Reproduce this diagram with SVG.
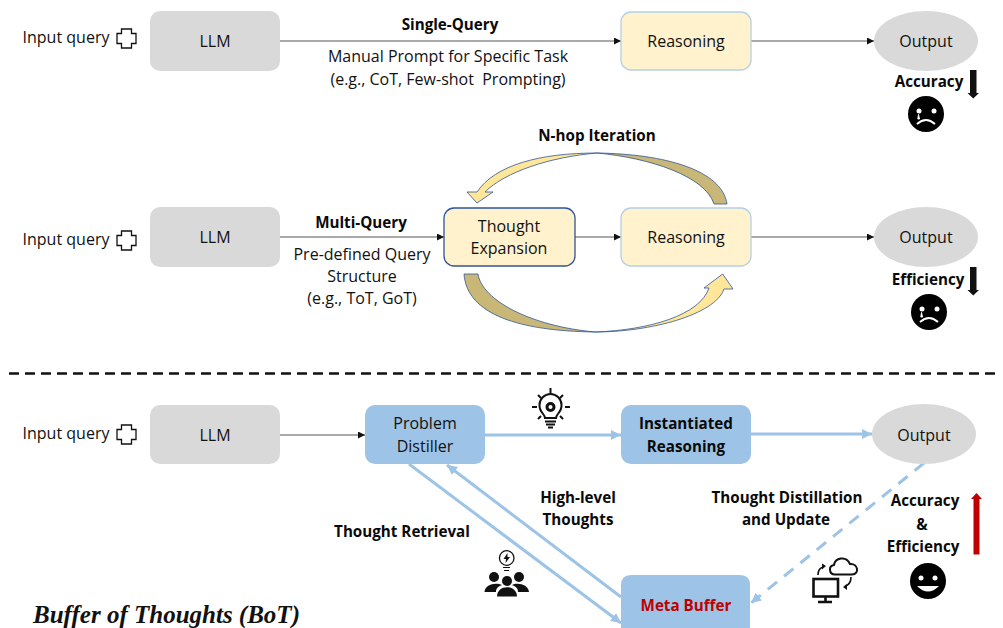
<svg xmlns="http://www.w3.org/2000/svg" width="1003" height="628" viewBox="0 0 1003 628">
<defs>
<style>
text{font-family:"Open Sans","Noto Sans","Liberation Sans",sans-serif;font-size:16px;fill:#111;text-anchor:middle}
.b{font-weight:700;font-size:15.2px;fill:#0a0a0a}
.gr{fill:#d9d9d9}
.yl{fill:#fff2cc;stroke:#b4cfe8;stroke-width:1.3}
.bl{fill:#9dc3e6}
.ln{fill:none;stroke:#555;stroke-width:1}
.bu{fill:none;stroke:#9dc3e6;stroke-width:3}
.plus{fill:#fff;stroke:#111;stroke-width:1.3}
.shade{fill:#c9b777;stroke:#2f5597;stroke-width:.8}
.light{fill:#ffe699;stroke:#2f5597;stroke-width:.8}
</style>
<marker id="k" markerWidth="9" markerHeight="8" refX="7" refY="3.500" orient="auto" markerUnits="userSpaceOnUse"><path d="M0 0L7 3.500L0 7z" fill="#111"/></marker>
<marker id="bh" markerWidth="12" markerHeight="11" refX="10" refY="5" orient="auto" markerUnits="userSpaceOnUse"><path d="M0 0L10 5L0 10z" fill="#9dc3e6"/></marker>
<path id="cross" d="M-5-9.500H5V-5H9.500V5H5V9.500H-5V5H-9.500V-5H-5z"/>
</defs>

<g id="connectors">
<path class="ln" marker-end="url(#k)" d="M279 41H621"/>
<path class="ln" marker-end="url(#k)" d="M751 41H874"/>
<path class="ln" marker-end="url(#k)" d="M280 237H444"/>
<path class="ln" marker-end="url(#k)" d="M575 237H621"/>
<path class="ln" marker-end="url(#k)" d="M751 237H874"/>
<path class="ln" marker-end="url(#k)" d="M280 435H365"/>
<path class="bu" marker-end="url(#bh)" d="M485 435H621"/>
<path class="bu" marker-end="url(#bh)" d="M751 434H872"/>
<path class="bu" marker-end="url(#bh)" d="M621 597L447 465"/>
<path class="bu" marker-end="url(#bh)" d="M409 464L621 623"/>
<path class="bu" stroke-dasharray="12 9" marker-end="url(#bh)" d="M924 463L751 603"/>
</g>

<g id="n-hop-arrow">
<path class="shade" d="M597 153C665 154 722 170 727 204H714C705 176 650 158 597 153z"/>
<path class="light" d="M597 153C540 153 495 165 477 192H467L477 203L493 192H485C505 172 550 157 597 153z"/>
</g>
<g id="forward-arrow">
<path class="shade" d="M464 274H478C482 300 530 326 595 332C520 331 467 315 464 274z"/>
<path class="light" d="M595 332C650 330 700 315 709 288H704L722.700 274L733 289H724C715 315 650 332 595 332z"/>
</g>

<g id="row1-input"><text x="66" y="43">Input query</text><use class="plus" href="#cross" x="126.500" y="38.500"/></g>
<g id="row1-llm"><rect class="gr" x="150" y="11" width="130" height="60" rx="10"/><text x="215" y="47">LLM</text></g>
<g id="row1-reasoning"><rect class="yl" x="621" y="12" width="130" height="58" rx="10"/><text x="686" y="47">Reasoning</text></g>
<g id="row1-output"><ellipse class="gr" cx="926" cy="41" rx="52" ry="30"/><text x="926" y="47">Output</text></g>
<g id="row1-labels">
<text class="b" x="450" y="30">Single-Query</text>
<text x="448" y="62">Manual Prompt for Specific Task</text>
<text x="448" y="85" xml:space="preserve">(e.g., CoT, Few-shot  Prompting)</text>
<text class="b" x="929" y="87">Accuracy</text>
<path d="M970 70H976.500V93H979L973.250 98.500L967.500 93H970z" fill="#111"/>
</g>
<g id="sad-1"><circle cx="926" cy="114" r="18" fill="#000"/><circle cx="919" cy="111" r="2.500" fill="#fff"/><circle cx="934" cy="111" r="2.500" fill="#fff"/><path d="M918.500 114.500L917.800 119H919.500z" fill="#fff" stroke="#fff"/><path d="M917 124Q926 116 935 124" fill="none" stroke="#fff" stroke-width="2"/></g>

<g id="row2-input"><text x="66" y="245">Input query</text><use class="plus" href="#cross" x="126.500" y="240.500"/></g>
<g id="row2-llm"><rect class="gr" x="150" y="207" width="130" height="60" rx="10"/><text x="215" y="243">LLM</text></g>
<g id="thought-expansion"><rect x="444" y="208" width="131" height="58" rx="10" fill="#fff2cc" stroke="#2f5597" stroke-width="1.300"/><text x="509" y="232">Thought</text><text x="509" y="254">Expansion</text></g>
<g id="row2-reasoning"><rect class="yl" x="621" y="208" width="130" height="58" rx="10"/><text x="686" y="243">Reasoning</text></g>
<g id="row2-output"><ellipse class="gr" cx="926" cy="237" rx="52" ry="30"/><text x="926" y="243">Output</text></g>
<g id="row2-labels">
<text class="b" x="597" y="141">N-hop Iteration</text>
<text class="b" x="361" y="228">Multi-Query</text>
<text x="362" y="260">Pre-defined Query</text>
<text x="362" y="282">Structure</text>
<text x="362" y="304">(e.g., ToT, GoT)</text>
<text class="b" x="928" y="285">Efficiency</text>
<path d="M970 267H976.500V290H979L973.250 295.500L967.500 290H970z" fill="#111"/>
</g>
<g id="sad-2"><circle cx="929" cy="312" r="18" fill="#000"/><circle cx="922" cy="309" r="2.500" fill="#fff"/><circle cx="937" cy="309" r="2.500" fill="#fff"/><path d="M921.500 312.500L920.800 317H922.500z" fill="#fff" stroke="#fff"/><path d="M920 322Q929 314 938 322" fill="none" stroke="#fff" stroke-width="2"/></g>

<path id="divider" d="M9 373.500H1000" stroke="#111" stroke-width="2.500" stroke-dasharray="10 6" fill="none"/>

<g id="row3-input"><text x="66" y="439">Input query</text><use class="plus" href="#cross" x="126.500" y="434.500"/></g>
<g id="row3-llm"><rect class="gr" x="150" y="405" width="130" height="59" rx="10"/><text x="215" y="441">LLM</text></g>
<g id="problem-distiller"><rect class="bl" x="365" y="405" width="120" height="59" rx="10"/><text x="425" y="429">Problem</text><text x="425" y="452">Distiller</text></g>
<g id="instantiated-reasoning"><rect class="bl" x="621" y="405" width="130" height="59" rx="10"/><text class="b" x="686" y="429">Instantiated</text><text class="b" x="686" y="452">Reasoning</text></g>
<g id="row3-output"><ellipse class="gr" cx="924" cy="434" rx="52" ry="30"/><text x="924" y="441">Output</text></g>
<g id="meta-buffer"><path class="bl" d="M631 575H740Q750 575 750 585V628H621V585Q621 575 631 575z"/><text class="b" x="686" y="611" style="fill:#c00000">Meta Buffer</text></g>
<g id="row3-labels">
<text class="b" x="402" y="537">Thought Retrieval</text>
<text class="b" x="578" y="503">High-level</text>
<text class="b" x="578" y="525">Thoughts</text>
<text class="b" x="787" y="503">Thought Distillation</text>
<text class="b" x="786" y="525">and Update</text>
<text class="b" x="925" y="506">Accuracy</text>
<text class="b" x="922" y="530">&amp;</text>
<text class="b" x="923" y="552">Efficiency</text>
<path d="M973.500 554.500V499H971L976.500 493L982 499H979.500V554.500z" fill="#c00000"/>
<text x="166.500" y="623" style="font-family:'Liberation Serif',serif;font-style:italic;font-weight:700;font-size:25px;fill:#111">Buffer of Thoughts (BoT)</text>
</g>
<g id="happy"><circle cx="928" cy="581" r="18" fill="#000"/><circle cx="921" cy="578" r="2.500" fill="#fff"/><circle cx="935" cy="578" r="2.500" fill="#fff"/><path d="M917 586Q928 597 939 586z" fill="#fff"/></g>

<g id="icon-bulb" fill="none" stroke="#111" stroke-width="2">
<path d="M545 418C545 414 539 412 539.500 405A11 11 0 0 1 561.500 405C562 412 556 414 556 418z" stroke-width="2"/>
<circle cx="550.500" cy="407" r="3.500" stroke-width="3"/>
<path d="M545 421.500H556M546 424.500H555M548 427.500H553" stroke-width="2"/>
<path d="M550.500 388V393M532 407H537M565 407H570M538 395L541 398M563 395L560 398M538 419L541 416M563 419L560 416"/>
</g>
<g id="icon-team" fill="#111">
<circle cx="506.700" cy="558" r="7.300" fill="none" stroke="#111" stroke-width="1.300"/>
<path d="M507.500 553L503.500 559H506L505.500 563L510 557H507.500z"/>
<path d="M503 567.500H510M504 570.500H509" stroke="#111" stroke-width="1.200"/>
<circle cx="494" cy="577" r="5"/><circle cx="519" cy="577" r="5"/><circle cx="507" cy="581" r="5"/>
<path d="M484.500 592C485 584 496 582 502 585C497 587 496 589 496 592z"/><path d="M529 592C528.500 584 517 582 512 585C517 587 518 589 518 592z"/>
<path d="M497 596.500C497 584 517 584 517 596.500z"/>
</g>
<g id="icon-cloud" fill="none" stroke="#111" stroke-width="2">
<path d="M835 574.500C829 574.500 828 566 834 565C835 558 846 555 850 564C858 563 860 574.500 852 574.500z"/>
<rect x="813.500" y="579" width="24.500" height="17.500" stroke-width="2.600"/>
<path d="M825.500 597V601M818 602H832" stroke-width="2.600"/>
<path d="M818 575C818 571 820 568 823 567M851 577C851 582 849 585 845 586" stroke-width="1.600"/>
<path d="M826 566L822 563.500V569.500zM843 587L847 584V590z" fill="#111" stroke="none"/>
</g>
</svg>
